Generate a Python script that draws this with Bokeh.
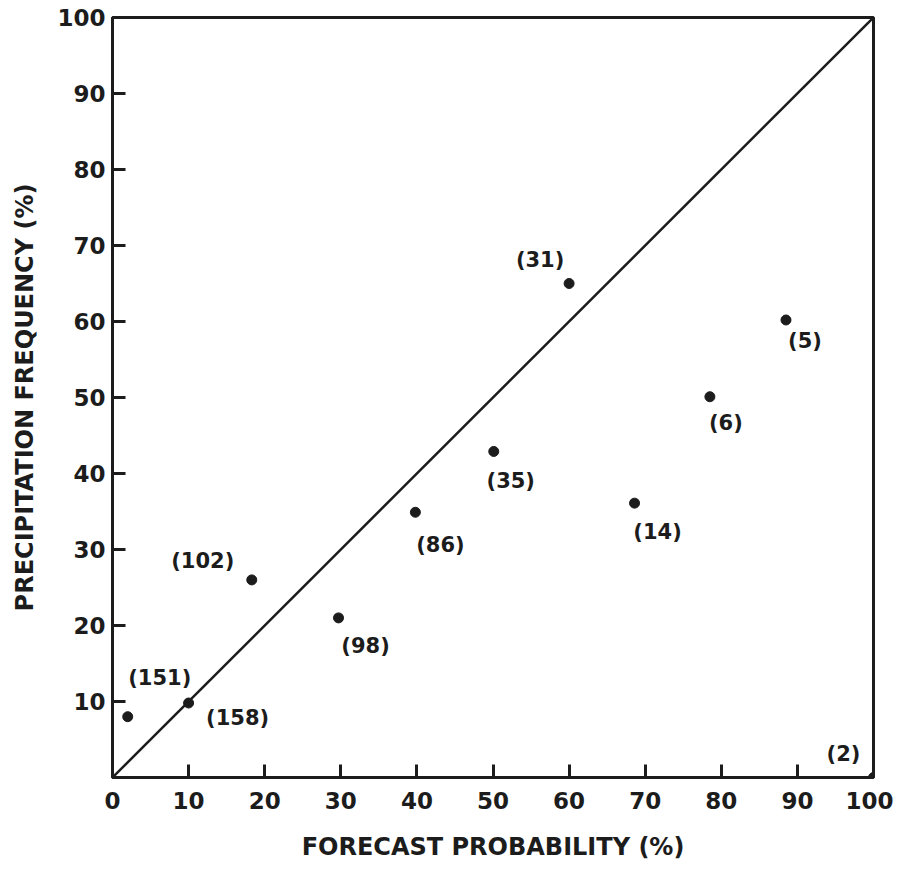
from bokeh.plotting import figure
from bokeh.models import Range1d, FixedTicker, ColumnDataSource
from bokeh.core.properties import value
from bokeh.embed import file_html
from bokeh.resources import INLINE

# Data
forecast_prob = [2, 10, 18.3, 29.7, 39.8, 50.1, 60, 68.6, 78.5, 88.5, 100]
precip_freq = [8, 9.8, 26, 21, 34.9, 42.9, 65, 36.1, 50.1, 60.2, 0]
counts = ["(151)", "(158)", "(102)", "(98)", "(86)", "(35)", "(31)", "(14)", "(6)", "(5)", "(2)"]

x_ticks = [0, 10, 20, 30, 40, 50, 60, 70, 80, 90, 100]
y_ticks = [10, 20, 30, 40, 50, 60, 70, 80, 90, 100]

# label placement offsets (screen px)
label_dx = [32, 49, -49, 27, 25, 17, -29, 23, 16, 19, -30]
label_dy = [-39, 15, -19, 28, 33, 30, -24, 29, 26, 21, -24]

INK = "#1c1c1c"
FONT = "DejaVu Sans"

p = figure(width=893, height=867,
           x_range=Range1d(0, 100), y_range=Range1d(0, 100),
           output_backend="svg", toolbar_location=None,
           min_border_left=112, min_border_right=20,
           min_border_top=17, min_border_bottom=90)
p.background_fill_color = "white"
p.border_fill_color = "white"
p.xgrid.visible = False
p.ygrid.visible = False
p.outline_line_color = INK
p.outline_line_width = 3

for ax, ticks in ((p.xaxis[0], x_ticks), (p.yaxis[0], y_ticks)):
    ax.ticker = FixedTicker(ticks=ticks)
    ax.minor_tick_line_color = None
    ax.major_tick_in = 13
    ax.major_tick_out = 0
    ax.major_tick_line_width = 3
    ax.major_tick_line_color = INK
    ax.axis_line_width = 3
    ax.axis_line_color = INK
    ax.major_label_text_font = FONT
    ax.major_label_text_font_size = "23px"
    ax.major_label_text_font_style = "bold"
    ax.major_label_text_color = INK
    ax.axis_label_text_font = FONT
    ax.axis_label_text_font_size = "24px"
    ax.axis_label_text_font_style = "bold"
    ax.axis_label_text_color = INK

p.xaxis.axis_label = "FORECAST PROBABILITY (%)"
p.yaxis.axis_label = "PRECIPITATION FREQUENCY (%)"
p.xaxis.major_label_standoff = 14
p.xaxis.axis_label_standoff = 21
p.yaxis.major_label_standoff = 7
p.yaxis.axis_label_standoff = 15

# perfect reliability diagonal
p.line(x=[x_ticks[0], x_ticks[-1]], y=[x_ticks[0], x_ticks[-1]], line_color=INK, line_width=2.5)

src = ColumnDataSource(dict(x=forecast_prob, y=precip_freq, label=counts,
                            dx=label_dx, dy=label_dy))
p.scatter(x="x", y="y", source=src, size=10, fill_color=INK, line_color=INK)
p.text(x="x", y="y", text="label", source=src, x_offset="dx", y_offset="dy",
       text_align="center", text_baseline="middle",
       text_font=value(FONT), text_font_size="21px", text_font_style="bold",
       text_color=INK)

open("out.html", "w").write(file_html(p, INLINE))
